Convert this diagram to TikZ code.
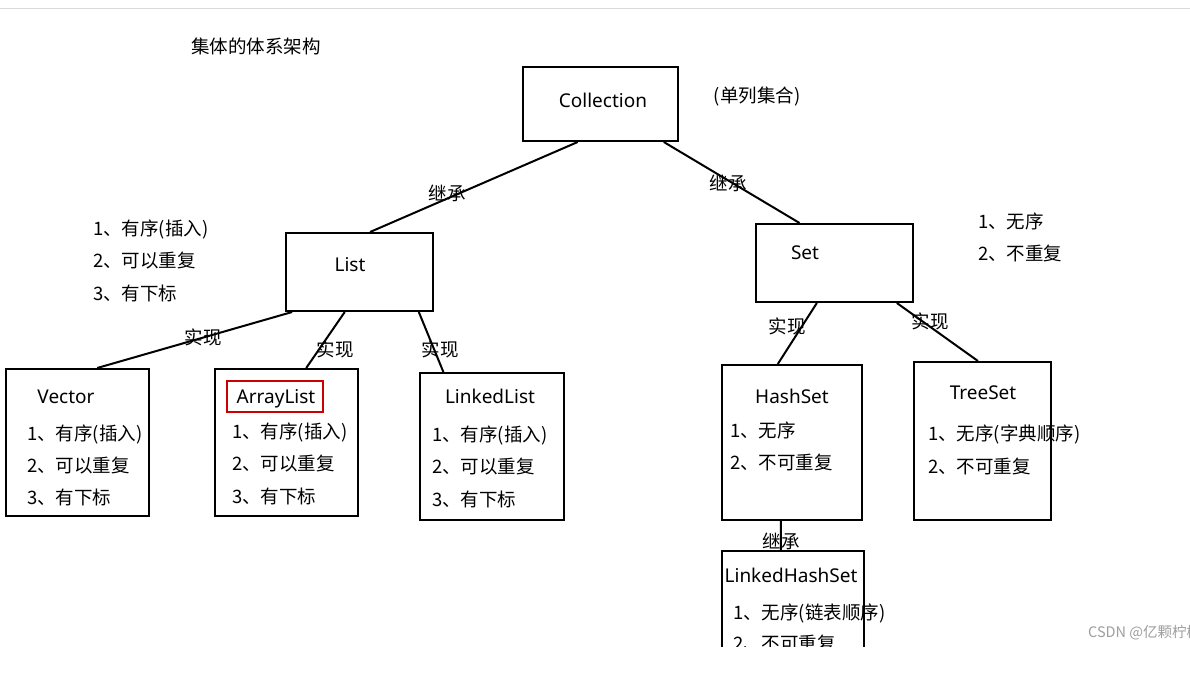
\documentclass[tikz,border=0pt]{standalone}
\usepackage{fontspec}
\setmainfont{Noto Sans CJK SC}
\newfontfamily\lat{Noto Sans}
\usetikzlibrary{calc}
\begin{document}
\begin{tikzpicture}[x=1pt,y=-1pt,
  box/.style={draw=black,line width=2pt,inner sep=0pt,rectangle},
  conn/.style={line width=2pt},
  cn/.style={font=\fontsize{18.5}{20}\selectfont,inner sep=0pt},
  item/.style={cn,anchor=west},
  ln/.style={font=\lat\fontsize{19}{22}\selectfont,inner sep=0pt},
  wm/.style={font=\fontsize{14.5}{16}\selectfont,text=black!38,inner sep=0pt,anchor=west}]
\useasboundingbox (0,0) rectangle (1190,692);
\fill[white] (0,0) rectangle (1190,692);
\draw[black!15,line width=1pt] (0,9) -- (1190,9);

% title
\node[item] (title) at (191,46) {集体的体系架构};

% boxes
\node[box,minimum width=155,minimum height=74] (coll) at (600.5,104) {};
\node[box,minimum width=147,minimum height=78] (list) at (359.5,272) {};
\node[box,minimum width=157,minimum height=78] (set) at (834.5,263) {};
\node[box,minimum width=143,minimum height=147] (vec) at (77.5,442.5) {};
\node[box,minimum width=143,minimum height=147] (al) at (286.5,442.5) {};
\node[box,minimum width=144,minimum height=147] (ll) at (492,446.5) {};
\node[box,minimum width=140,minimum height=155] (hs) at (792,442.5) {};
\node[box,minimum width=137,minimum height=158] (ts) at (982.5,441) {};

% texts
\node[ln] (tcoll) at (603,100) {Collection};
\node[cn] (tdan) at (757,97) {(单列集合)};
\node[ln] (tlist) at (350,265) {List};
\node[ln] (tset) at (805,253) {Set};

\node[item] (ln1) at (93,229) {1、有序(插入)};
\node[item] (ln2) at (93,261) {2、可以重复};
\node[item] (ln3) at (93,293) {3、有下标};
\node[item] (sn1) at (978,221) {1、无序};
\node[item] (sn2) at (978,253) {2、不重复};

\node[ln] (tvec) at (66,397) {Vector};
\node[item] (v1) at (27,434) {1、有序(插入)};
\node[item] (v2) at (27,466) {2、可以重复};
\node[item] (v3) at (27,497) {3、有下标};

\node[ln] (tal) at (276,399) {ArrayList};
\node[draw=red!80!black,line width=1.5pt,minimum width=96,minimum height=31,inner sep=0pt] (redbox) at (275,396.5) {};
\node[item] (a1) at (232,432) {1、有序(插入)};
\node[item] (a2) at (232,464) {2、可以重复};
\node[item] (a3) at (232,496) {3、有下标};

\node[ln] (tll) at (490,396) {LinkedList};
\node[item] (l1) at (432,435) {1、有序(插入)};
\node[item] (l2) at (432,467) {2、可以重复};
\node[item] (l3) at (432,499) {3、有下标};

\node[ln] (ths) at (792,396) {HashSet};
\node[item] (h1) at (730,430) {1、无序};
\node[item] (h2) at (730,462) {2、不可重复};

\node[ln] (tts) at (983,393) {TreeSet};
\node[item] (t1) at (928,434) {1、无序(字典顺序)};
\node[item] (t2) at (928,466) {2、不可重复};

% connectors
\draw[conn] ($(coll.south west)!0.355!(coll.south east)$) -- ($(list.north west)!0.571!(list.north east)$);
\draw[conn] ($(coll.south west)!0.903!(coll.south east)$) -- ($(set.north west)!0.28!(set.north east)$);
\draw[conn] ($(list.south west)!0.048!(list.south east)$) -- ($(vec.north west)!0.636!(vec.north east)$);
\draw[conn] ($(list.south west)!0.401!(list.south east)$) -- ($(al.north west)!0.636!(al.north east)$);
\draw[conn] ($(list.south west)!0.898!(list.south east)$) -- ($(ll.north west)!0.167!(ll.north east)$);
\draw[conn] ($(set.south west)!0.389!(set.south east)$) -- ($(hs.north west)!0.4!(hs.north east)$);
\draw[conn] ($(set.south west)!0.892!(set.south east)$) -- ($(ts.north west)!0.467!(ts.north east)$);

% connector labels
\node[cn] (e1) at (447,193) {继承};
\node[cn] (e2) at (728,183) {继承};
\node[cn] (e3) at (203,337) {实现};
\node[cn] (e4) at (335,349) {实现};
\node[cn] (e5) at (440,349) {实现};
\node[cn] (e6) at (787,326) {实现};
\node[cn] (e7) at (930,321) {实现};

% LinkedHashSet (cut off at the bottom)
\begin{scope}
\clip (0,0) rectangle (1190,646);
\node[box,minimum width=142,minimum height=150] (lhs) at (793,626) {};
\draw[conn] ($(hs.south west)!0.421!(hs.south east)$) -- ($(lhs.north west)!0.415!(lhs.north east)$);
\node[cn] (e8) at (781,541) {继承};
\node[ln] (tlhs) at (791,575) {LinkedHashSet};
\node[item] (k1) at (733,613) {1、无序(链表顺序)};
\node[item] (k2) at (733,643) {2、不可重复};
\end{scope}

% watermark
\node[wm] (wmark) at (1088,633) {CSDN @亿颗柠檬};
\end{tikzpicture}
\end{document}
